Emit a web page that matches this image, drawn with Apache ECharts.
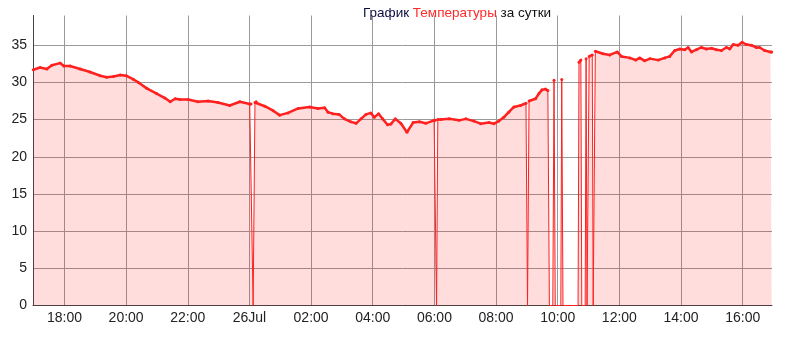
<!DOCTYPE html>
<html>
<head>
<meta charset="utf-8">
<script src="https://cdn.jsdelivr.net/npm/echarts@6/dist/echarts.min.js"></script>
<style>
html,body{margin:0;padding:0;background:#fff;}
#chart{width:801px;height:340px;}
</style>
</head>
<body>
<div id="chart"></div>
<script>
// Time in hours from 25 Jul 00:00 (24 = 26 Jul 00:00)
const hours = [
16.99,17.21,17.43,17.59,17.86,17.98,18.18,18.51,18.83,19.16,19.37,19.59,19.81,20.00,20.24,20.40,20.67,20.99,21.26,21.43,21.59,21.75,
22.01,22.33,22.66,22.98,23.36,23.69,24.01,24.05,24.12,24.18,24.22,24.50,24.77,24.98,25.25,25.58,25.95,26.22,26.44,26.55,26.70,26.91,
27.08,27.29,27.46,27.62,27.78,27.94,28.05,28.19,28.32,28.48,28.59,28.73,28.91,29.11,29.31,29.51,29.72,29.99,30.03,30.07,30.11,30.21,
30.48,30.80,31.02,31.28,31.50,31.77,31.93,32.09,32.25,32.41,32.58,32.79,32.97,33.02,33.07,33.28,33.39,33.49,33.60,33.68,33.73,33.84,
33.88,33.92,34.10,34.13,34.17,34.66,34.69,34.75,34.78,34.89,34.92,34.95,34.99,35.02,35.12,35.15,35.19,35.22,35.47,35.69,35.93,36.07,
36.34,36.53,36.66,36.82,36.99,37.26,37.47,37.63,37.80,37.96,38.12,38.23,38.34,38.50,38.66,38.82,38.99,39.15,39.31,39.47,39.58,39.69,
39.85,39.98,40.12,40.28,40.44,40.55,40.71,40.90,40.94
];
const temps = [
31.7,32.0,31.8,32.3,32.6,32.2,32.2,31.8,31.4,30.9,30.7,30.8,31.0,30.9,30.4,30.0,29.2,28.5,27.9,27.4,27.8,27.7,
27.7,27.4,27.5,27.3,26.9,27.4,27.1,27.1,0,27.3,27.4,26.8,26.2,25.6,25.9,26.5,26.7,26.5,26.6,26.0,25.8,25.7,
25.1,24.7,24.5,25.1,25.7,25.9,25.3,25.8,25.1,24.3,24.4,25.1,24.5,23.3,24.6,24.7,24.5,24.9,24.9,0,25.0,25.0,
25.1,24.9,25.1,24.8,24.45,24.6,24.45,24.8,25.3,26.0,26.7,26.9,27.2,0,27.5,27.8,28.5,29.0,29.1,28.9,0,0,
30.3,0,0,30.4,0,0,32.7,33.0,0,0,33.2,0,0,33.5,33.7,0,0,34.2,33.85,33.7,34.1,33.5,
33.3,33.0,33.3,32.9,33.2,33.0,33.3,33.5,34.3,34.5,34.4,34.7,34.1,34.4,34.7,34.5,34.6,34.4,34.3,34.7,34.5,35.1,
35.0,35.4,35.1,35.0,34.7,34.7,34.3,34.1,34.1
];
const xTicks = [18,20,22,24,26,28,30,32,34,36,38,40];
const yTicks = [0,5,10,15,20,25,30,35];

const fullData = hours.map((h,i)=>[h,temps[i]]);
const mainData = hours.map((h,i)=>[h,temps[i]===0?null:temps[i]]);

const chart = echarts.init(document.getElementById('chart'), null, {renderer:'canvas'});
const font = 'Liberation Sans, Arial, sans-serif';
chart.setOption({
  animation:false,
  title:{
    text:'{a|График }{b|Температуры}{c| за сутки}',
    left:358, top:1,
    textStyle:{
      fontWeight:'normal',
      rich:{
        a:{color:'#0d0d40',fontSize:13.5,fontWeight:'normal',fontFamily:font},
        b:{color:'#ff2a2a',fontSize:13.5,fontWeight:'normal',fontFamily:font},
        c:{color:'#111111',fontSize:13.5,fontWeight:'normal',fontFamily:font}
      }
    }
  },
  grid:{left:33,right:29,top:15.5,bottom:34.5,containLabel:false},
  xAxis:{
    type:'value', min:16.98, max:40.95,
    axisLine:{show:true,onZero:false,lineStyle:{color:'#444',width:1}},
    axisTick:{show:false,customValues:xTicks},
    axisLabel:{
      customValues:xTicks, color:'#222', fontSize:14, fontFamily:font, margin:6,
      formatter:function(v){ if(Math.abs(v-24)<1e-6) return '26Jul'; const h=Math.round(v)%24; return (h<10?'0':'')+h+':00'; }
    },
    splitLine:{show:true,lineStyle:{color:'#9a9a9a',width:1}}
  },
  yAxis:{
    type:'value', min:0, max:39, interval:5,
    axisLine:{show:true,lineStyle:{color:'#444',width:1}},
    axisTick:{show:false},
    axisLabel:{color:'#222',fontSize:14,fontFamily:font,margin:6,showMaxLabel:false,
      formatter:function(v){ return yTicks.indexOf(v)>=0 ? String(v) : ''; }},
    splitLine:{show:true,showMaxLine:false,lineStyle:{color:'#9a9a9a',width:1}}
  },
  series:[
    {
      type:'line', data:fullData, showSymbol:false, symbol:'none',
      lineStyle:{color:'#ff2020',width:1},
      areaStyle:{color:'rgba(255,0,0,0.135)',opacity:1},
      z:2
    },
    {
      type:'line', data:mainData, connectNulls:false,
      symbol:'circle', symbolSize:3, showSymbol:true, showAllSymbol:true,
      itemStyle:{color:'#ff2020'},
      lineStyle:{color:'#ff2020',width:2.5},
      z:3
    }
  ]
});
</script>
</body>
</html>
